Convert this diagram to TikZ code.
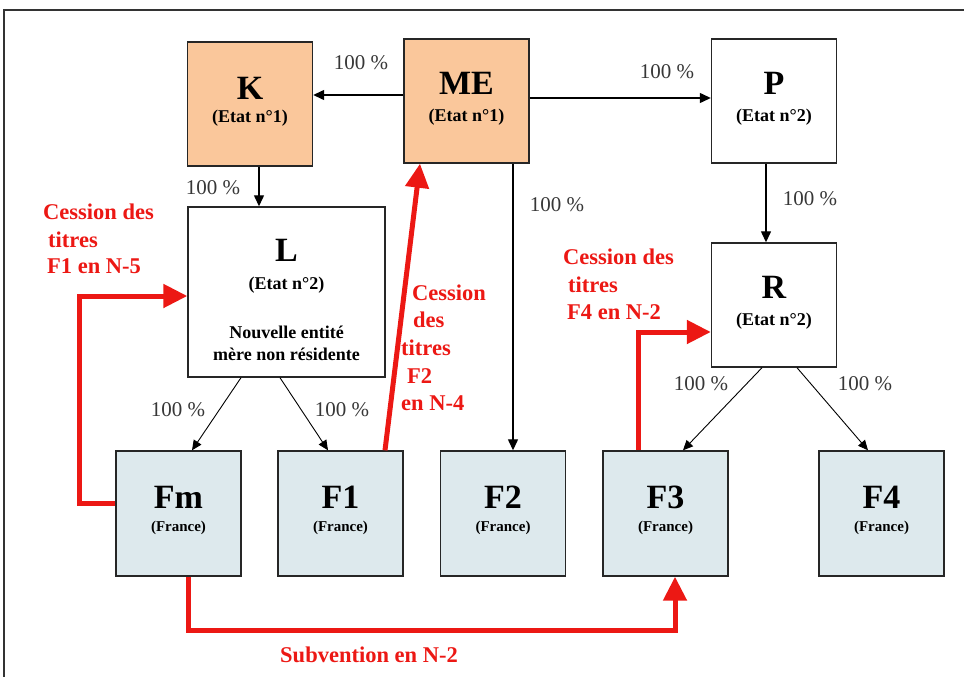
\documentclass[tikz,border=0pt]{standalone}
\usepackage{fontspec}
\setmainfont{Liberation Serif}
\usetikzlibrary{arrows.meta,calc}
\definecolor{peach}{RGB}{250,199,155}
\definecolor{paleblue}{RGB}{221,233,237}
\definecolor{cred}{RGB}{236,24,20}
\definecolor{pctgray}{RGB}{55,55,55}
\begin{document}
\begin{tikzpicture}[x=1pt,y=-1pt,
  box/.style={draw=black!85,line width=1.4pt,minimum width=125pt,minimum height=124pt,inner sep=0pt},
  foreign/.style={box,fill=peach},
  plain/.style={box,fill=white},
  french/.style={box,fill=paleblue,minimum height=125pt},
  ttl/.style={font=\bfseries\fontsize{34}{34}\selectfont,inner sep=0pt},
  sub/.style={font=\bfseries\fontsize{18}{18}\selectfont,inner sep=0pt},
  subfr/.style={font=\bfseries\fontsize{15}{15}\selectfont,inner sep=0pt},
  pct/.style={font=\fontsize{21}{21}\selectfont,text=pctgray,inner sep=0pt},
  redtxt/.style={font=\bfseries\fontsize{22.5}{22.5}\selectfont,text=cred,inner sep=0pt,anchor=base west},
  own/.style={draw=black,line width=1.3pt,-{Triangle[length=11pt,width=10pt]}},
  ownthin/.style={draw=black,line width=0.9pt,-{Triangle[length=10pt,width=9pt]}},
  flow/.style={draw=cred,line width=5pt,line join=miter,-{Triangle[length=24pt,width=23pt]}}
]
\useasboundingbox (0,0) rectangle (964,677);
\draw[line width=1.8pt,black!80] (4,677) -- (4,10) -- (964,10);

% entities
\node[foreign] (K)  at (250,104) {};
\node[foreign] (ME) at (466.5,101) {};
\node[plain]   (P)  at (774,101) {};
\node[plain]   (R)  at (774,305) {};
\node[plain,minimum width=197pt,minimum height=170pt] (L) at (286.5,292) {};
\node[french] (Fm) at (178.5,513.5) {};
\node[french] (F1) at (340.5,513.5) {};
\node[french] (F2) at (503,513.5) {};
\node[french] (F3) at (665.5,513.5) {};
\node[french] (F4) at (881.5,513.5) {};

% entity texts
\node[ttl] (Kt)  at (250,88) {K};
\node[sub] (Ks)  at (250,118) {(Etat n°1)};
\node[ttl] (MEt) at (466.5,83) {ME};
\node[sub] (MEs) at (466.5,117) {(Etat n°1)};
\node[ttl] (Pt)  at (774,83) {P};
\node[sub] (Ps)  at (774,117) {(Etat n°2)};
\node[ttl] (Rt)  at (774,287) {R};
\node[sub] (Rs)  at (774,321) {(Etat n°2)};
\node[ttl] (Lt)  at (286.5,250) {L};
\node[sub] (Ls)  at (286.5,285) {(Etat n°2)};
\node[sub] (Ln1) at (286.5,332) {Nouvelle entité};
\node[sub] (Ln2) at (286.5,354) {mère non résidente};
\foreach \n/\t in {Fm/Fm,F1/F1,F2/F2,F3/F3,F4/F4}{
  \node[ttl] (\n t) at ([yshift=16.5pt]\n.center) {\t};
  \node[subfr] (\n s) at ([yshift=-14.5pt]\n.center) {(France)};
}

% shareholdings
\coordinate (a1) at ([yshift=6pt]ME.west);
\draw[own] (a1) -- (a1 -| K.east);
\coordinate (a2) at ([yshift=3pt]ME.east);
\draw[own] (a2) -- (a2 -| P.west);
\coordinate (a3) at ([xshift=9pt]K.south);
\draw[own] (a3) -- (a3 |- L.north);
\coordinate (a4) at ([xshift=46.5pt]ME.south);
\draw[own] (a4) -- (a4 |- F2.north);
\coordinate (a5) at ([xshift=-8pt]P.south);
\draw[own] (a5) -- (a5 |- R.north);
\draw[ownthin] ([xshift=-45.5pt]L.south) -- ([xshift=13.5pt]Fm.north);
\draw[ownthin] ([xshift=-6.5pt]L.south) -- ([xshift=-12.5pt]F1.north);
\draw[ownthin] ([xshift=-12pt]R.south) -- ([xshift=17.5pt]F3.north);
\draw[ownthin] ([xshift=23pt]R.south) -- ([xshift=-13.5pt]F4.north);

\node[pct] (p1) at (361,63) {100 \%};
\node[pct] (p2) at (667,72) {100 \%};
\node[pct] (p3) at (213,188) {100 \%};
\node[pct] (p4) at (557,205) {100 \%};
\node[pct] (p5) at (810,199) {100 \%};
\node[pct] (p6) at (178,410) {100 \%};
\node[pct] (p7) at (342,410) {100 \%};
\node[pct] (p8) at (701,384) {100 \%};
\node[pct] (p9) at (865,384) {100 \%};

% transfers
\coordinate (fmout) at ([yshift=10.5pt]Fm.west);
\coordinate (lin) at ([yshift=-4pt]L.west);
\draw[flow] (fmout) -| ([xshift=-108pt]lin) -- (lin);
\draw[flow] ([xshift=44.5pt]F1.north) -- ([xshift=-46.5pt]ME.south);
\coordinate (f3out) at ([xshift=-27.5pt]F3.north);
\draw[flow] (f3out) |- ([yshift=-27pt]R.west);
\coordinate (fmdown) at ([xshift=9.5pt]Fm.south);
\draw[flow] (fmdown) -- ++(0,54) -| ([xshift=9.5pt]F3.south);

\node[redtxt] (c1a) at (43,219) {Cession des};
\node[redtxt] (c1b) at (48,247) {titres};
\node[redtxt] (c1c) at (47,273) {F1 en N-5};
\node[redtxt] (c2a) at (412,300) {Cession};
\node[redtxt] (c2b) at (413,327) {des};
\node[redtxt] (c2c) at (401,355) {titres};
\node[redtxt] (c2d) at (407,383) {F2};
\node[redtxt] (c2e) at (401,410) {en N-4};
\node[redtxt] (c3a) at (563,264) {Cession des};
\node[redtxt] (c3b) at (568,292) {titres};
\node[redtxt] (c3c) at (567,319) {F4 en N-2};
\node[font=\bfseries\fontsize{22.5}{22.5}\selectfont,text=cred,inner sep=0pt] (sub) at (369,655) {Subvention en N-2};
\end{tikzpicture}
\end{document}
